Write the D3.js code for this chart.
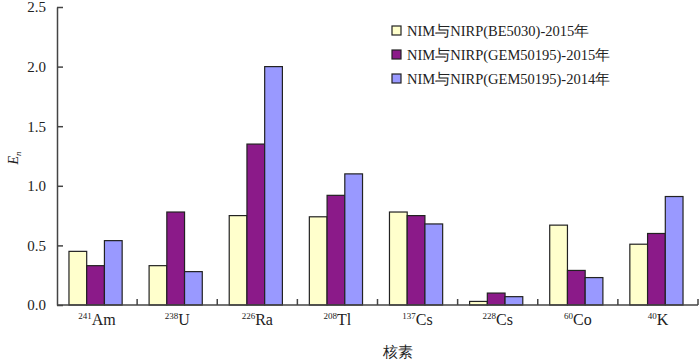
<!DOCTYPE html>
<html><head><meta charset="utf-8">
<script src="https://cdn.jsdelivr.net/npm/d3@7"></script>
<style>
body{margin:0;background:#fff;}
</style></head>
<body><svg id="c" width="700" height="361" font-family="Liberation Serif, serif"></svg>
<script>
const nuclideMass = ["241","238","226","208","137","228","60","40"];
const nuclideSym = ["Am","U","Ra","Tl","Cs","Cs","Co","K"];
const seriesNames = ["NIM与NIRP(BE5030)-2015年","NIM与NIRP(GEM50195)-2015年","NIM与NIRP(GEM50195)-2014年"];
const be5030_2015 = [0.45,0.33,0.75,0.74,0.78,0.03,0.67,0.51];
const gem_2015 = [0.33,0.78,1.35,0.92,0.75,0.10,0.29,0.60];
const gem_2014 = [0.54,0.28,2.00,1.10,0.68,0.07,0.23,0.91];
const yTicks = [0,0.5,1.0,1.5,2.0,2.5];
const colors = ["#FFFFCC","#8B1A89","#9999FF"];

const FONT = "'Liberation Serif', 'DejaVu Serif', serif";
const series = [be5030_2015, gem_2015, gem_2014];
const svg = d3.select("#c");
const mL=57, mR=698, mT=7, mB=305;
const x = d3.scaleBand().domain(d3.range(8)).range([mL,mR]);
const xi = d3.scaleBand().domain(d3.range(3)).range([0,x.bandwidth()]).paddingInner(0).paddingOuter(0.76);
const y = d3.scaleLinear().domain([0,2.5]).range([mB,mT]);

// bars
series.forEach((s,si)=>{
  svg.append("g").selectAll("rect").data(s).join("rect")
    .attr("x",(d,i)=>x(i)+xi(si)-1.5)
    .attr("y",d=>y(d))
    .attr("width",xi.bandwidth())
    .attr("height",d=>y(0)-y(d))
    .attr("fill",colors[si]).attr("stroke","#222").attr("stroke-width",1.2);
});

// y axis
const ya = svg.append("g").attr("transform",`translate(${mL},0)`)
  .call(d3.axisLeft(y).tickValues(yTicks).tickFormat(d3.format(".1f")).tickSizeInner(-6).tickSizeOuter(0).tickPadding(11));
ya.attr("font-family",FONT);
ya.select(".domain").attr("stroke","#444").attr("stroke-width",1.5);
ya.selectAll(".tick line").attr("stroke","#444").attr("stroke-width",1.5);
ya.selectAll(".tick text").attr("font-size",15).attr("fill","#222").attr("font-family",FONT);

// x axis
const xa = svg.append("g").attr("transform",`translate(0,${mB})`);
xa.append("line").attr("x1",mL).attr("x2",mR).attr("stroke","#444").attr("stroke-width",1.5);
xa.selectAll("line.t").data(d3.range(1,9)).join("line").attr("class","t")
  .attr("x1",i=>mL+i*x.step()).attr("x2",i=>mL+i*x.step()).attr("y1",0).attr("y2",-6)
  .attr("stroke","#444").attr("stroke-width",1.5);
const lab = xa.selectAll("text.l").data(d3.range(8)).join("text").attr("class","l")
  .attr("x",i=>x(i)+x.bandwidth()/2).attr("y",20).attr("text-anchor","middle").attr("fill","#222")
  .attr("font-family",FONT);
lab.append("tspan").attr("font-size",9).attr("dy",-6).text(i=>nuclideMass[i]);
lab.append("tspan").attr("font-size",16).attr("dy",6).text(i=>nuclideSym[i]);

// axis titles
svg.append("text").attr("transform","translate(18,158) rotate(-90)").attr("text-anchor","middle")
  .attr("font-size",14).attr("font-style","italic").attr("fill","#222").attr("font-family",FONT)
  .call(t=>{t.append("tspan").text("E");t.append("tspan").attr("font-size",9).attr("dy",3).text("n");});
svg.append("text").attr("x",398).attr("y",357).attr("text-anchor","middle").attr("font-family",FONT)
  .attr("font-size",15).attr("fill","#222").text("核素");

// legend
const lg = svg.append("g");
seriesNames.forEach((n,i)=>{
  const yy = 31 + i*24;
  lg.append("rect").attr("x",392).attr("y",yy-5).attr("width",9).attr("height",9)
    .attr("fill",colors[i]).attr("stroke","#222").attr("stroke-width",1.2);
  lg.append("text").attr("x",407).attr("y",yy+5).attr("font-size",14.5).attr("fill","#222")
    .attr("font-family",FONT).text(n);
});
</script></body></html>
